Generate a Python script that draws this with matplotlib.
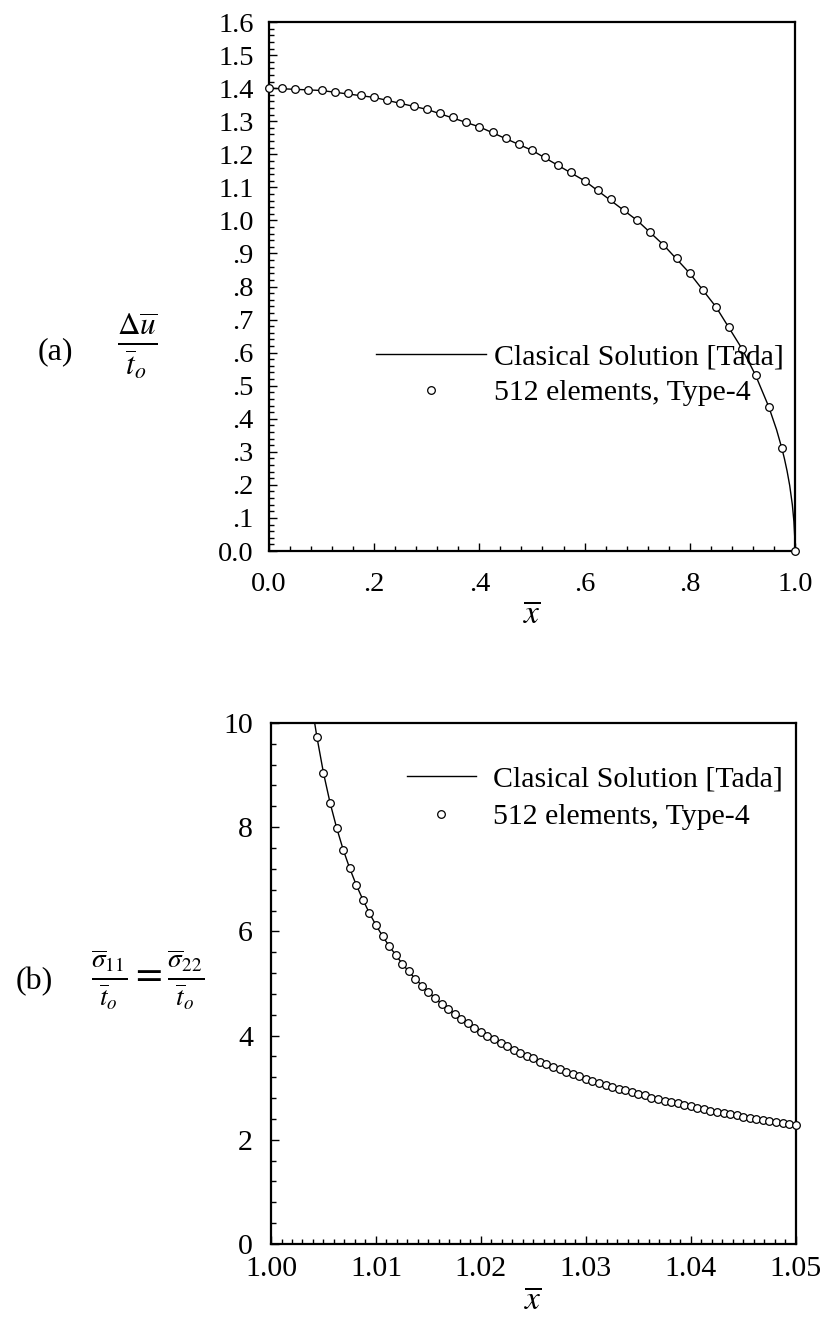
# -*- coding: utf-8 -*-
#
import numpy as np
import matplotlib
matplotlib.use('Agg')
import matplotlib.pyplot as plt
from matplotlib.ticker import MultipleLocator, FixedLocator, FixedFormatter


# (a) abertura da trinca: pontos numericos (512 elementos, Type-4)
x_a = [0.0, 0.025, 0.05, 0.075, 0.1, 0.125, 0.15, 0.175, 0.2, 0.225,
       0.25, 0.275, 0.3, 0.325, 0.35, 0.375, 0.4, 0.425, 0.45, 0.475,
       0.5, 0.525, 0.55, 0.575, 0.6, 0.625, 0.65, 0.675, 0.7, 0.725,
       0.75, 0.775, 0.8, 0.825, 0.85, 0.875, 0.9, 0.925, 0.95, 0.975, 1.0]
du_a = [1.400, 1.400, 1.398, 1.396, 1.393, 1.389, 1.384, 1.378, 1.372, 1.364,
        1.356, 1.346, 1.336, 1.324, 1.312, 1.298, 1.283, 1.267, 1.250, 1.232,
        1.212, 1.192, 1.169, 1.145, 1.120, 1.093, 1.064, 1.033, 1.000, 0.964,
        0.926, 0.885, 0.840, 0.791, 0.738, 0.678, 0.610, 0.532, 0.437, 0.311, 0.0]

# (a) solucao classica [Tada]
xc_a = [0.0, 0.1, 0.2, 0.3, 0.4, 0.5, 0.6, 0.7, 0.75, 0.8, 0.85, 0.9,
        0.925, 0.95, 0.965, 0.975, 0.98, 0.985, 0.99, 0.995, 0.998, 0.9995, 1.0]
duc_a = [1.400, 1.393, 1.372, 1.336, 1.283, 1.212, 1.120, 1.000, 0.926, 0.840,
         0.738, 0.610, 0.532, 0.437, 0.367, 0.311, 0.279, 0.242, 0.198, 0.140,
         0.089, 0.044, 0.0]

# (b) tensao a frente da ponta da trinca: pontos numericos
x_b = [1.004375, 1.005, 1.005625, 1.00625, 1.006875, 1.0075, 1.008125, 1.00875,
       1.009375, 1.01, 1.010625, 1.01125, 1.011875, 1.0125, 1.013125, 1.01375,
       1.014375, 1.015, 1.015625, 1.01625, 1.016875, 1.0175, 1.018125, 1.01875,
       1.019375, 1.02, 1.020625, 1.02125, 1.021875, 1.0225, 1.023125, 1.02375,
       1.024375, 1.025, 1.025625, 1.02625, 1.026875, 1.0275, 1.028125, 1.02875,
       1.029375, 1.03, 1.030625, 1.03125, 1.031875, 1.0325, 1.033125, 1.03375,
       1.034375, 1.035, 1.035625, 1.03625, 1.036875, 1.0375, 1.038125, 1.03875,
       1.039375, 1.04, 1.040625, 1.04125, 1.041875, 1.0425, 1.043125, 1.04375,
       1.044375, 1.045, 1.045625, 1.04625, 1.046875, 1.0475, 1.048125, 1.04875,
       1.049375, 1.05]
s_b = [9.73, 9.04, 8.47, 7.99, 7.57, 7.21, 6.89, 6.61,
       6.35, 6.12, 5.91, 5.72, 5.55, 5.38, 5.23, 5.09,
       4.96, 4.84, 4.72, 4.61, 4.51, 4.42, 4.32, 4.24,
       4.15, 4.07, 4.00, 3.93, 3.86, 3.79, 3.73, 3.67,
       3.61, 3.56, 3.50, 3.45, 3.40, 3.35, 3.30, 3.26,
       3.22, 3.17, 3.13, 3.09, 3.05, 3.02, 2.98, 2.95,
       2.91, 2.88, 2.85, 2.81, 2.78, 2.75, 2.72, 2.70,
       2.67, 2.64, 2.61, 2.59, 2.56, 2.54, 2.51, 2.49,
       2.47, 2.44, 2.42, 2.40, 2.38, 2.36, 2.34, 2.32,
       2.30, 2.28]

# (b) solucao classica [Tada]
xc_b = [1.00416] + x_b
sc_b = [10.0] + s_b


#-------------------------------------------------------------------#
plt.rcParams['font.family'] = ['Liberation Serif', 'DejaVu Serif']
plt.rcParams['mathtext.fontset'] = 'stix'
plt.rcParams['font.size'] = 21

fig = plt.figure(figsize=(8.25, 13.29), dpi=100)

ax1 = fig.add_axes([0.326, 0.5854, 0.6376, 0.398])
ax2 = fig.add_axes([0.3285, 0.064, 0.636, 0.392])


def estilo(ax, tam):
    for s in ax.spines.values():
        s.set_linewidth(1.6)
    ax.tick_params(which='both', direction='in', top=False, right=False,
                   width=1.0, labelsize=tam)
    ax.tick_params(which='major', length=6)
    ax.tick_params(which='minor', length=3.5)
    ax.tick_params(axis='y', pad=11)


#Grafico (a):
ax1.plot(xc_a, duc_a, color='black', lw=1.0, label='Clasical Solution [Tada]',
         zorder=2)
ax1.plot(x_a, du_a, ls='none', marker='o', ms=5.5, mfc='white', mec='black',
         mew=0.9, label='512 elements, Type-4', zorder=3, clip_on=False)
ax1.set_xlim(0, 1)
ax1.set_ylim(0, 1.6)
estilo(ax1, 20.5)
ax1.xaxis.set_major_locator(FixedLocator([0, 0.2, 0.4, 0.6, 0.8, 1.0]))
ax1.xaxis.set_major_formatter(FixedFormatter(['0.0', '.2', '.4', '.6', '.8', '1.0']))
ax1.xaxis.set_minor_locator(MultipleLocator(0.04))
yt = np.arange(17) * 0.1
ax1.yaxis.set_major_locator(FixedLocator(yt))
ax1.yaxis.set_major_formatter(FixedFormatter(
    ['0.0', '.1', '.2', '.3', '.4', '.5', '.6', '.7', '.8', '.9',
     '1.0', '1.1', '1.2', '1.3', '1.4', '1.5', '1.6']))
ax1.yaxis.set_minor_locator(MultipleLocator(0.02))
ax1.tick_params(axis='x', pad=15)
ax1.set_xlabel(r'$\overline{x}$', fontsize=24, labelpad=2)
ax1.legend(loc='upper left', bbox_to_anchor=(0.175, 0.421), frameon=False,
           borderpad=0, handlelength=3.7, handletextpad=0.25,
           labelspacing=0.3, fontsize=21.5)

#Grafico (b):
ax2.plot(xc_b, sc_b, color='black', lw=1.0, label='Clasical Solution [Tada]',
         zorder=2)
ax2.plot(x_b, s_b, ls='none', marker='o', ms=5.5, mfc='white', mec='black',
         mew=0.9, label='512 elements, Type-4', zorder=3, clip_on=False)
ax2.set_xlim(1.0, 1.05)
ax2.set_ylim(0, 10)
estilo(ax2, 21.5)
ax2.xaxis.set_major_locator(FixedLocator([1.0, 1.01, 1.02, 1.03, 1.04, 1.05]))
ax2.xaxis.set_major_formatter(FixedFormatter(
    ['1.00', '1.01', '1.02', '1.03', '1.04', '1.05']))
ax2.xaxis.set_minor_locator(MultipleLocator(0.001))
ax2.yaxis.set_major_locator(MultipleLocator(2))
ax2.yaxis.set_minor_locator(MultipleLocator(0.4))
ax2.tick_params(axis='x', pad=9)
ax2.tick_params(axis='y', pad=13)
ax2.set_xlabel(r'$\overline{x}$', fontsize=24, labelpad=2)
ax2.legend(loc='upper left', bbox_to_anchor=(0.2305, 0.946), frameon=False,
           borderpad=0, handlelength=2.3, handletextpad=0.6,
           labelspacing=0.35, fontsize=21.5)

#Rotulos dos eixos y:
fig.text(0.067, 1 - 352 / 1329, '(a)', ha='center', va='center', fontsize=23)
fig.text(0.166, 1 - 345 / 1329, r'$\frac{\Delta\overline{u}}{\overline{t}_o}$',
         ha='center', va='center', fontsize=32)
fig.text(0.042, 1 - 982 / 1329, '(b)', ha='center', va='center', fontsize=23)
fig.text(0.179, 1 - 980 / 1329,
         r'$\frac{\overline{\sigma}_{11}}{\overline{t}_o}=\frac{\overline{\sigma}_{22}}{\overline{t}_o}$',
         ha='center', va='center', fontsize=28)

fig.savefig('out.png', dpi=100)
